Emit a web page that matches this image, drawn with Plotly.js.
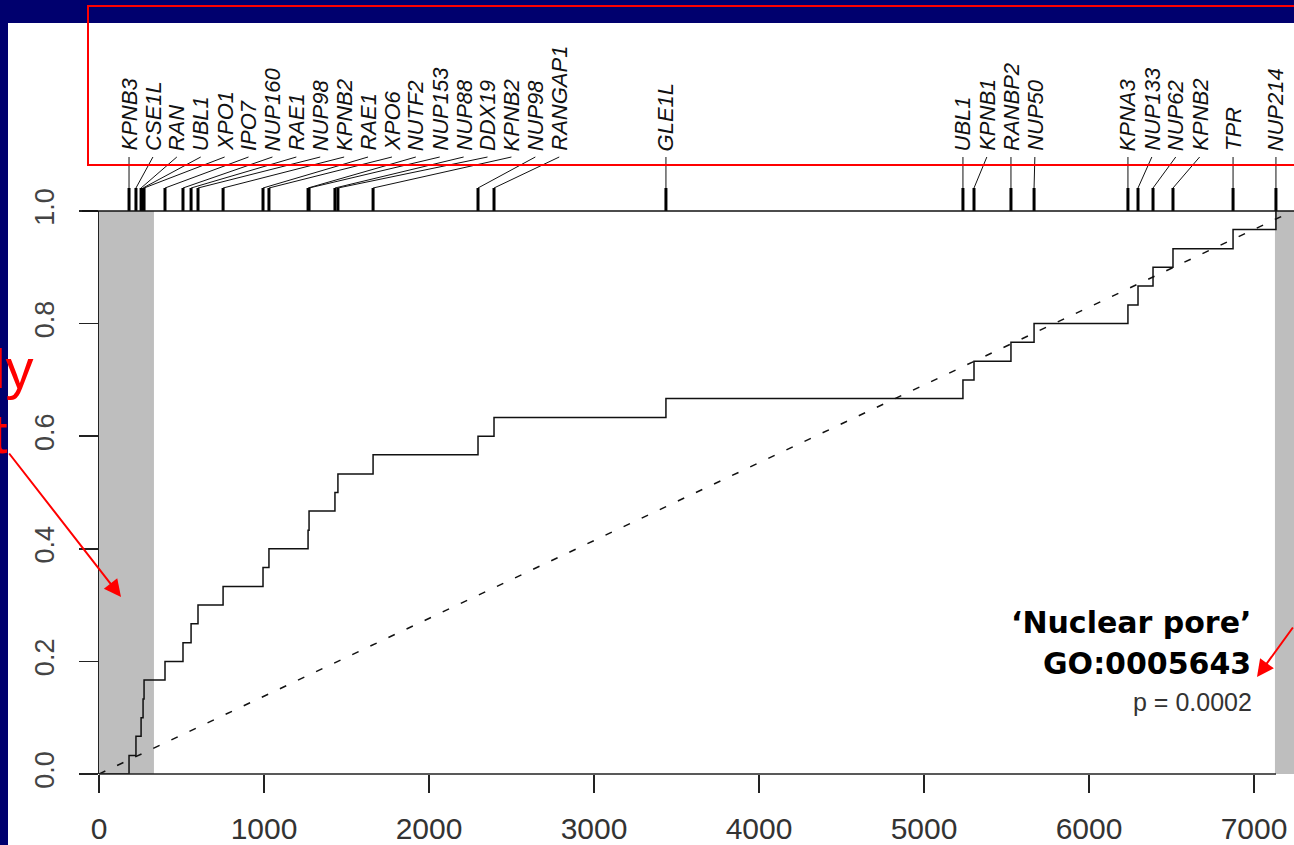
<!DOCTYPE html>
<html><head><meta charset="utf-8">
<script src="https://cdn.plot.ly/plotly-3.0.1.min.js"></script>
<style>html,body{margin:0;padding:0;overflow:hidden;background:#00006e}</style>
</head><body><div id="chart" style="width:1294px;height:845px"></div>
<script>
// ---- data ----
const genes = ['KPNB3','CSE1L','RAN','UBL1','XPO1','IPO7','NUP160','RAE1','NUP98','KPNB2',
  'RAE1','XPO6','NUTF2','NUP153','NUP88','DDX19','KPNB2','NUP98','RANGAP1','GLE1L',
  'UBL1','KPNB1','RANBP2','NUP50','KPNA3','NUP133','NUP62','KPNB2','TPR','NUP214'];
const rankPositions = [182,224,255,267,273,400,509,558,600,752,
  994,1030,1267,1273,1430,1448,1661,2297,2394,3436,
  5236,5303,5527,5667,6236,6297,6388,6509,6873,7133];
const runningFraction = [0.033,0.067,0.1,0.133,0.167,0.2,0.233,0.267,0.3,0.333,
  0.367,0.4,0.433,0.467,0.5,0.533,0.567,0.6,0.633,0.667,
  0.7,0.733,0.767,0.8,0.833,0.867,0.9,0.933,0.967,1.0];
const expectedX = [0, 7236];
const expectedY = [0, 1];
const leftBand = [0, 333];
const rightBand = [7127, 7400];
const xTicks = [0,1000,2000,3000,4000,5000,6000,7000];
const xTickLabels = ['0','1000','2000','3000','4000','5000','6000','7000'];
const yTicks = [0,0.2,0.4,0.6,0.8,1.0];
const yTickLabels = ['0.0','0.2','0.4','0.6','0.8','1.0'];
const titleLines = ['\u2018Nuclear pore\u2019', 'GO:0005643'];
const pText = 'p = 0.0002';

// ---- layout helpers (pixel geometry of the slide) ----
const W = 1294, H = 845, L = 99, B = 71;
const plotW = W - L, plotH = H - B;
const pxPerUnit = 0.165;
const yPx = 563;              // pixels for y range 0..1
const px2pX = p => (p - L) / plotW;
const px2pY = p => (plotH - p) / plotH;
const y2At = p => 1 + (211 - p) / yPx;   // top panel coordinate for pixel row p

// label positions spread so they don't overlap
const labelGap = 23.9 / pxPerUnit;
const labelX = [];
rankPositions.forEach((v, i) => {
  labelX.push(i === 0 ? v : Math.max(v, labelX[i - 1] + labelGap));
});

const tickTop = y2At(188), connTop = y2At(157), labelBase = y2At(153);
const tx = [], ty = [], cx = [], cy = [];
rankPositions.forEach((v, i) => {
  tx.push(v, v, null); ty.push(1, tickTop, null);
  cx.push(v, labelX[i], null); cy.push(tickTop, connTop, null);
});

const traces = [
  {x: [0].concat(rankPositions), y: [0].concat(runningFraction), mode: 'lines',
   line: {shape: 'hv', color: '#111', width: 1.5}, hoverinfo: 'skip'},
  {x: expectedX, y: expectedY, mode: 'lines',
   line: {color: '#111', width: 1.5, dash: '7px,13px'}, hoverinfo: 'skip'},
  {x: tx, y: ty, xaxis: 'x', yaxis: 'y2', mode: 'lines',
   line: {color: '#000', width: 3}, hoverinfo: 'skip'},
  {x: cx, y: cy, xaxis: 'x', yaxis: 'y2', mode: 'lines',
   line: {color: '#111', width: 1}, hoverinfo: 'skip'}
];

const annotations = genes.map((g, i) => ({
  xref: 'x', yref: 'y2', x: labelX[i], y: labelBase, text: '<i>' + g + '</i>',
  showarrow: false, textangle: -90, xanchor: 'center', yanchor: 'bottom',
  font: {size: 22, color: '#111', family: 'Liberation Sans, Arial, sans-serif'}
}));
annotations.push(
  {xref: 'paper', yref: 'paper', x: px2pX(1253), y: px2pY(622), text: '<b>' + titleLines[0] + '</b>',
   showarrow: false, xanchor: 'right', yanchor: 'middle',
   font: {size: 30, color: '#000', family: 'DejaVu Sans, sans-serif'}},
  {xref: 'paper', yref: 'paper', x: px2pX(1253), y: px2pY(663), text: '<b>' + titleLines[1] + '</b>',
   showarrow: false, xanchor: 'right', yanchor: 'middle',
   font: {size: 30, color: '#000', family: 'DejaVu Sans, sans-serif'}},
  {xref: 'paper', yref: 'paper', x: px2pX(1254), y: px2pY(702), text: pText,
   showarrow: false, xanchor: 'right', yanchor: 'middle',
   font: {size: 25, color: '#333', family: 'Liberation Sans, Arial, sans-serif'}},
  {xref: 'paper', yref: 'paper', x: px2pX(35), y: px2pY(369), text: 'ly',
   showarrow: false, xanchor: 'right', yanchor: 'middle',
   font: {size: 56, color: '#ff0000', family: 'Liberation Sans, Arial, sans-serif'}},
  {xref: 'paper', yref: 'paper', x: px2pX(10), y: px2pY(433), text: 't',
   showarrow: false, xanchor: 'right', yanchor: 'middle',
   font: {size: 56, color: '#ff0000', family: 'Liberation Sans, Arial, sans-serif'}},
  {xref: 'paper', yref: 'paper', x: px2pX(121), y: px2pY(597), text: '',
   showarrow: true, ax: -113, ay: -145, arrowcolor: '#ff0000', arrowwidth: 2,
   arrowhead: 2, arrowsize: 1.7, standoff: 0},
  {xref: 'paper', yref: 'paper', x: px2pX(1257), y: px2pY(677), text: '',
   showarrow: true, ax: 70, ay: -51, arrowcolor: '#ff0000', arrowwidth: 2,
   arrowhead: 2, arrowsize: 1.7, standoff: 0}
);

const shapes = [
  {type: 'rect', xref: 'paper', yref: 'paper', layer: 'below',
   x0: px2pX(8), x1: px2pX(1300), y0: px2pY(23), y1: px2pY(850),
   fillcolor: '#ffffff', line: {width: 0}},
  {type: 'rect', xref: 'x', yref: 'y', layer: 'below', x0: leftBand[0], x1: leftBand[1], y0: 0, y1: 1,
   fillcolor: '#bebebe', line: {width: 0}},
  {type: 'rect', xref: 'x', yref: 'y', layer: 'below', x0: rightBand[0], x1: rightBand[1], y0: 0, y1: 1,
   fillcolor: '#bebebe', line: {width: 0}},
  {type: 'line', xref: 'paper', yref: 'paper', x0: px2pX(82), x1: px2pX(1300), y0: px2pY(211), y1: px2pY(211),
   line: {color: '#111', width: 1.5}},
  {type: 'line', xref: 'paper', yref: 'paper', x0: 0, x1: px2pX(1276), y0: 0, y1: 0,
   line: {color: '#222', width: 1.5}},
  {type: 'rect', xref: 'paper', yref: 'paper', x0: px2pX(88), x1: px2pX(1310), y0: px2pY(6), y1: px2pY(165),
   line: {color: '#ff0000', width: 2}, fillcolor: 'rgba(0,0,0,0)'}
];

const layout = {
  width: W, height: H,
  margin: {l: L, r: 0, t: 0, b: B, pad: 0},
  paper_bgcolor: '#00006e', plot_bgcolor: 'rgba(0,0,0,0)',
  showlegend: false,
  font: {family: 'Liberation Sans, Arial, sans-serif', color: '#333'},
  xaxis: {range: [0, plotW / pxPerUnit], tickvals: xTicks, ticktext: xTickLabels,
    ticks: 'outside', ticklen: 18, tickwidth: 1.5, tickcolor: '#222', ticklabelstandoff: 10,
    showline: false, showgrid: false, zeroline: false, automargin: false,
    tickfont: {size: 30, color: '#333'}, fixedrange: true},
  yaxis: {domain: [0, yPx / plotH], range: [0, 1], tickvals: yTicks, ticktext: yTickLabels,
    ticks: 'outside', ticklen: 19, tickwidth: 1.5, tickcolor: '#222', ticklabelstandoff: 14,
    showline: true, linecolor: '#222', linewidth: 1.5, showgrid: false, zeroline: false,
    tickangle: -90, automargin: false, tickfont: {size: 27, color: '#444'}, fixedrange: true},
  yaxis2: {domain: [yPx / plotH, 1], range: [1, 1 + 211 / yPx], visible: false, fixedrange: true},
  shapes: shapes,
  annotations: annotations
};

Plotly.newPlot('chart', traces, layout, {displayModeBar: false, staticPlot: true});
</script></body></html>
